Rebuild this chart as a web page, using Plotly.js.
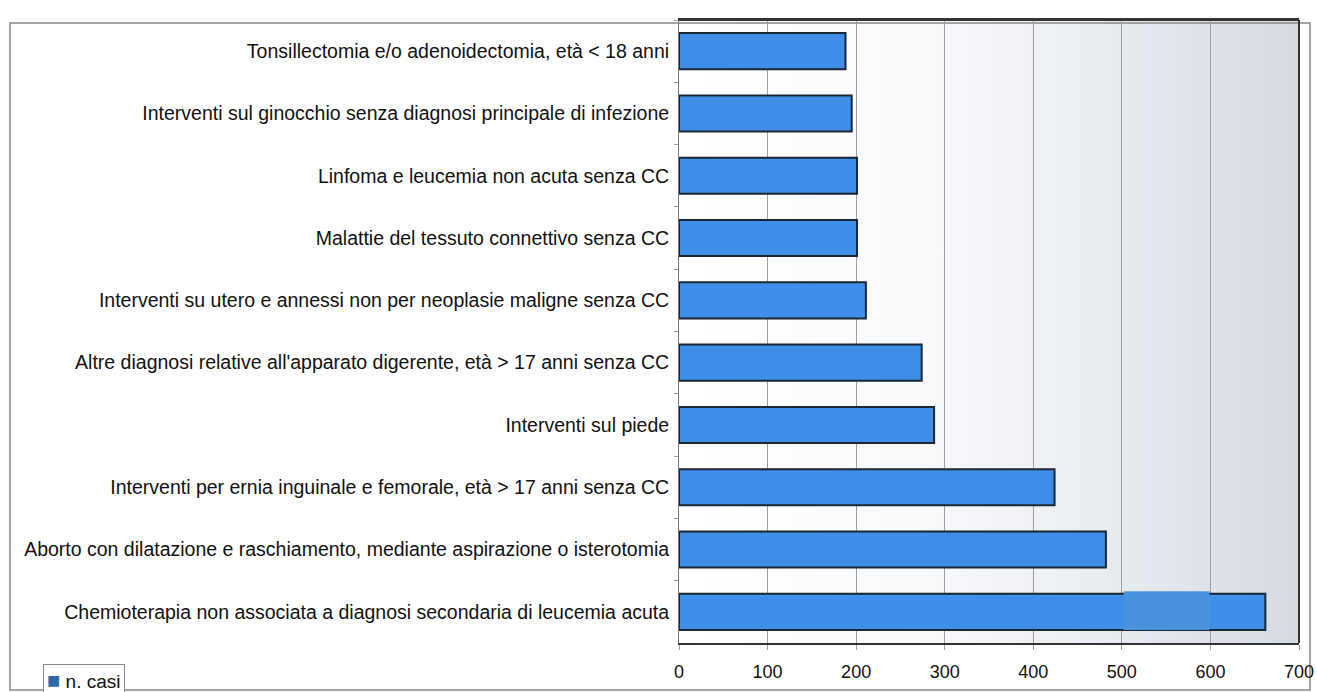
<!DOCTYPE html>
<html><head><meta charset="utf-8">
<script src="https://cdn.plot.ly/plotly-3.0.1.min.js"></script>
<style>html,body{margin:0;padding:0;background:#fff;}#chart{width:1317px;height:692px;}</style>
</head><body><div id="chart"></div>
<script>
const categories = [
  "Tonsillectomia e/o adenoidectomia, età < 18 anni",
  "Interventi sul ginocchio senza diagnosi principale di infezione",
  "Linfoma e leucemia non acuta senza CC",
  "Malattie del tessuto connettivo senza CC",
  "Interventi su utero e annessi non per neoplasie maligne senza CC",
  "Altre diagnosi relative all'apparato digerente, età > 17 anni senza CC",
  "Interventi sul piede",
  "Interventi per ernia inguinale e femorale, età > 17 anni senza CC",
  "Aborto con dilatazione e raschiamento, mediante aspirazione o isterotomia",
  "Chemioterapia non associata a diagnosi secondaria di leucemia acuta"
];
const nCasi = [188, 195, 201, 201, 211, 274, 288, 424, 482, 662];
const seriesName = "n. casi";
const xTicks = [0, 100, 200, 300, 400, 500, 600, 700];

const gradSvg = '<svg xmlns="http://www.w3.org/2000/svg" width="620" height="623" preserveAspectRatio="none"><defs><linearGradient id="g" x1="0" y1="0" x2="1" y2="0"><stop offset="0" stop-color="#ffffff"/><stop offset="0.4" stop-color="#f8f9fb"/><stop offset="0.7" stop-color="#e8ebf0"/><stop offset="1" stop-color="#d5dae1"/></linearGradient></defs><rect width="620" height="623" fill="url(#g)"/></svg>';
const gradUri = 'data:image/svg+xml;base64,' + btoa(gradSvg);

const L = 679, R = 1299, T = 20, B = 643;
const pw = R - L, ph = B - T;
const px = v => (v - L) / pw;
const py = v => (B - v) / ph;

const trace = {
  type: 'bar', orientation: 'h', y: categories, x: nCasi, name: seriesName,
  marker: {color: '#3f8fe9', line: {color: '#1b2633', width: 2}},
  width: 0.58, showlegend: false, hoverinfo: 'x+y'
};

const layout = {
  width: 1317, height: 692,
  margin: {l: L, r: 1317 - R, t: T, b: 692 - B, pad: 0},
  paper_bgcolor: '#ffffff', plot_bgcolor: 'rgba(0,0,0,0)',
  font: {family: '"Liberation Sans", Arial, sans-serif', color: '#111'},
  xaxis: {
    range: [0, 700], tickvals: xTicks, ticktext: xTicks.map(String),
    showgrid: true, gridcolor: '#9a9ea3', gridwidth: 1,
    ticks: 'outside', ticklen: 5, tickcolor: '#9a9ea3',
    showline: true, linecolor: '#333', linewidth: 2, mirror: true,
    zeroline: false, ticklabelstandoff: 6,
    tickfont: {size: 18, color: '#111'}
  },
  yaxis: {
    type: 'category', autorange: 'reversed',
    showline: true, linecolor: '#777', linewidth: 1, mirror: false,
    ticks: 'outside', tickson: 'boundaries', ticklen: 4, tickcolor: '#999',
    showgrid: false,
    tickfont: {size: 19.5, color: '#111'},
    ticklabelstandoff: 5
  },
  images: [{
    source: gradUri, xref: 'paper', yref: 'paper', x: 0, y: 1,
    sizex: 1, sizey: 1, sizing: 'stretch', layer: 'below', xanchor: 'left', yanchor: 'top'
  }],
  shapes: [
    {type: 'rect', xref: 'paper', yref: 'paper', x0: px(10), x1: px(1310), y0: py(690), y1: py(23),
     line: {color: '#888', width: 1.5}, fillcolor: 'rgba(0,0,0,0)', layer: 'below'},
    {type: 'line', xref: 'paper', yref: 'paper', x0: 1, x1: 1, y0: 0, y1: 1, line: {color: '#333', width: 2}},
    {type: 'line', xref: 'paper', yref: 'paper', x0: 0, x1: 1, y0: 1, y1: 1, line: {color: '#333', width: 2}},
    {type: 'rect', xref: 'x', yref: 'y', x0: 502, x1: 599, y0: 8.67, y1: 9.29,
     fillcolor: '#4a93dc', line: {width: 0}, layer: 'above'}
  ],
  annotations: [{
    xref: 'paper', yref: 'paper', x: px(43), y: py(680), xanchor: 'left', yanchor: 'middle',
    text: '<span style="color:#2e68a6;font-size:22px">■</span> ' + seriesName, showarrow: false,
    font: {size: 19, color: '#111'},
    bordercolor: '#888', borderwidth: 1, borderpad: 3, bgcolor: '#fff'
  }],
  bargap: 0.42
};

Plotly.newPlot('chart', [trace], layout, {displayModeBar: false, staticPlot: true});
</script></body></html>
